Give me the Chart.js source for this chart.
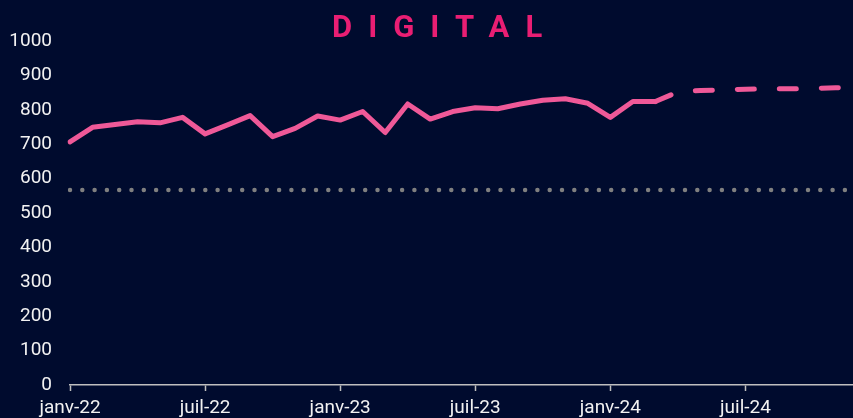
<!DOCTYPE html>
<html>
<head>
<meta charset="utf-8">
<script src="https://cdn.jsdelivr.net/npm/chart.js@4"></script>
<style>
  html, body { margin: 0; padding: 0; background: #000b2e; overflow: hidden; }
  .wrap { position: relative; width: 864px; height: 418px; }
  .titre {
    position: absolute; left: 332px; top: 11px;
    font: bold 31px Roboto, sans-serif; line-height: 31px;
    letter-spacing: 16px; color: #e91e73; white-space: nowrap;
  }
  canvas { display: block; }
</style>
</head>
<body>
<div class="wrap">
  <div class="titre">DIGITAL</div>
  <canvas id="graph" width="864" height="418"></canvas>
</div>
<script>
document.addEventListener('DOMContentLoaded', function(){

    const mois = ['janv-22','févr-22','mars-22','avr-22','mai-22','juin-22','juil-22','août-22','sept-22','oct-22','nov-22','déc-22',
                  'janv-23','févr-23','mars-23','avr-23','mai-23','juin-23','juil-23','août-23','sept-23','oct-23','nov-23','déc-23',
                  'janv-24','févr-24','mars-24','avr-24','mai-24','juin-24','juil-24','août-24','sept-24','oct-24','nov-24','déc-24'];

    // réalisé
    let reel = [707,749,757,765,762,778,730,756,783,722,746,782,
                770,795,734,817,773,795,806,803,817,828,832,819,
                778,824,824];

    // prévision (démarre sur le dernier mois réalisé)
    let prevision = [null,null,null,null,null,null,null,null,null,null,null,null,
                     null,null,null,null,null,null,null,null,null,null,null,null,
                     null,null,824,852,856,858,860,861,861,862,864,866];

    let seuil = 567;

    const rose = '#ef5998';

    const data = {
        labels: mois,
        datasets: [
        {
            data: reel,
            borderColor: rose,
            borderWidth: 5,
            borderJoinStyle: 'round',
            borderCapStyle: 'round',
            pointRadius: 0,
            tension: 0
        },
        {
            data: prevision,
            borderColor: rose,
            borderWidth: 5,
            borderDash: [17, 25],
            borderCapStyle: 'round',
            pointRadius: 0,
            tension: 0
        },
        {
            data: [{x: mois[0], y: seuil}, {x: mois[mois.length - 1], y: seuil}],
            borderColor: '#808080',
            borderWidth: 4.5,
            borderDash: [0, 12.3],
            borderCapStyle: 'round',
            pointRadius: 0
        }
      ]
    };

    new Chart(document.querySelector('#graph'), {
        type: 'line',
        data: data,
        options: {
          responsive: false,
          animation: false,
          // le padding des ticks x (6) s'ajoute à droite : largeur 864 -> zone jusqu'à 858
          layout: { padding: { top: 41, right: 0, left: 0, bottom: 0 } },
          plugins: {
            legend: { display: false },
            tooltip: { enabled: false }
          },
          scales: {
            y: {
                min: 0,
                max: 1000,
                ticks: {
                    stepSize: 100,
                    color: '#f2f2f2',
                    padding: 10,
                    font: { family: 'Roboto', size: 19 },
                    callback: function(v){ return String(v); }
                },
                grid: { display: false },
                border: { display: false },
                afterFit: function(scale){ scale.width = 70; }
            },
            x: {
                ticks: {
                    autoSkip: false,
                    maxRotation: 0,
                    color: '#f2f2f2',
                    padding: 6,
                    font: { family: 'Roboto', size: 19 },
                    callback: function(val, i){ return i % 6 === 0 ? mois[i] : ''; }
                },
                grid: {
                    drawOnChartArea: false,
                    tickLength: 6,
                    tickWidth: 1.5,
                    tickColor: function(ctx){ return ctx.index % 6 === 0 ? '#bfbfbf' : 'transparent'; }
                },
                border: { color: '#bfbfbf', width: 1.5 },
                afterFit: function(scale){ scale.height = 33; }
            }
          }
        }
    });
});
</script>
</body>
</html>
